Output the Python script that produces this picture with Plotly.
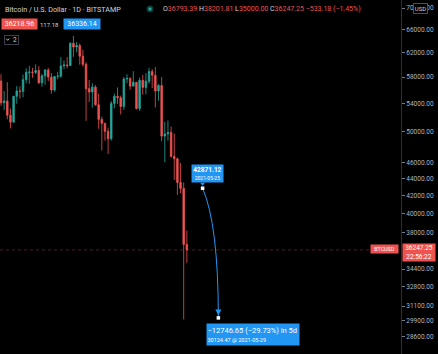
import math
import pandas as pd
import plotly.graph_objects as go

# ---------------- data ----------------
dates = pd.date_range("2021-03-22", periods=60, freq="D")
opens = [57400, 54100, 54350, 52300, 51300, 55050, 55850, 55800, 57600, 58750,
         58800, 58750, 59050, 57100, 58200, 59150, 58000, 56000, 58100, 58150,
         59800, 59950, 59850, 63600, 62950, 63200, 61400, 60050, 56200, 55700,
         56450, 53800, 51700, 51150, 50050, 49050, 54000, 55050, 54850, 53550,
         57700, 57800, 56600, 57200, 53250, 57500, 56400, 57350, 58900, 58300,
         55850, 56700, 49400, 49700, 49900, 46750, 46450, 43550, 42850, 36793.39]
highs = [58450, 55850, 57200, 53250, 55100, 56600, 56550, 58400, 59400, 59800,
         59500, 60050, 59750, 58500, 59250, 59450, 58650, 58150, 58850, 61250,
         60700, 61250, 63750, 64900, 63800, 63550, 62500, 60400, 57550, 57050,
         56750, 55450, 52100, 51200, 50550, 54350, 55450, 56400, 55150, 58000,
         58450, 57950, 58950, 57200, 57950, 58350, 58650, 59500, 59300, 59600,
         56900, 58000, 51350, 51550, 50700, 49750, 46600, 45900, 43550, 38201.81]
lows = [53650, 53000, 51700, 50450, 51250, 53950, 54700, 54900, 57050, 56950,
        57900, 58500, 56950, 56500, 56800, 57400, 55450, 55750, 57650, 57900,
        59300, 59400, 59850, 61300, 62050, 60000, 59700, 51500, 54200, 53400,
        53650, 50400, 47500, 48800, 47050, 48800, 53300, 53900, 52400, 53050,
        57050, 56050, 56500, 53100, 52900, 55300, 55350, 56950, 56300, 53400,
        54400, 48700, 46000, 48800, 46600, 43850, 42100, 42300, 30000, 35000]
closes = [54100, 54350, 52300, 51300, 55050, 55850, 55800, 57600, 58750, 58800,
          58750, 59050, 57100, 58200, 59150, 58000, 56000, 58100, 58150, 59800,
          59950, 59850, 63600, 62950, 63200, 61400, 60050, 56200, 55700, 56450,
          53800, 51700, 51150, 50050, 49050, 54000, 55050, 54850, 53550, 57700,
          57800, 56600, 57200, 53250, 57500, 56400, 57350, 58900, 58300, 55850,
          56700, 49400, 49700, 49900, 46750, 46450, 43550, 42850, 36793.39, 36247.25]

last_price = 36247.25
proj_dates = ["2021-05-25", "2021-05-30"]
proj_prices = [42871.12, 30124.47]
proj_start_label = ["42871.12", "2021-05-25"]
proj_end_label = ["\u221212746.65 (\u221229.73%) in 5d", "30124.47 @ 2021-05-29"]

tick_vals = [70000, 66000, 62000, 58000, 54000, 50000, 46000, 44000, 42000,
             40000, 38000, 34400, 32800, 31100, 29900, 28600]
tick_text = [f"{v:.2f}" for v in tick_vals]

title_text = "Bitcoin / U.S. Dollar \u00b7 1D \u00b7 BITSTAMP"
ohlc_labels = ["O", "H", "L", "C"]
ohlc_values = ["36793.39", "38201.81", "35000.00", "36247.25"]
change_text = "\u2212533.18 (\u22121.45%)"
bid_price = "36218.96"
spread = "117.18"
ask_price = "36336.14"
countdown = "22:56:22"
symbol = "BTCUSD"
collapsed_count = "2"

# ---------------- style ----------------
UP = "#26a69a"
DOWN = "#ef5350"
BLUE = "#2196f3"
TXT = "#d1d4dc"
AX = "#b2b5be"
BG = "#000000"
FONT = "Roboto"

W, H = 438, 354
PLOT_W = 401


def px(x):
    return x / PLOT_W


def py(y):
    return 1 - y / H


day_px = 3.15
x_start = dates[0] - pd.Timedelta(days=1 / day_px)
x_end = dates[0] + pd.Timedelta(days=(PLOT_W - 1) / day_px)
ppd = 846.3  # pixels per decade
r_top = math.log10(70000) + 8 / ppd
r_bot = math.log10(70000) - (H - 8) / ppd

fig = go.Figure()
fig.add_trace(go.Candlestick(
    x=dates, open=opens, high=highs, low=lows, close=closes,
    increasing=dict(line=dict(color=UP, width=0.8), fillcolor=UP),
    decreasing=dict(line=dict(color=DOWN, width=0.8), fillcolor=DOWN),
    showlegend=False, hoverinfo="skip",
))

# projection points
fig.add_trace(go.Scatter(
    x=proj_dates, y=proj_prices, mode="markers",
    marker=dict(symbol="square", size=3.5, color="white", line=dict(width=0)),
    showlegend=False, hoverinfo="skip",
))

l0, l1 = math.log10(proj_prices[0]), math.log10(proj_prices[1])
ctrl = 10 ** (l0 + 0.28 * (l1 - l0))
shapes = [
    dict(type="line", xref="paper", yref="y", x0=0, x1=1, y0=last_price, y1=last_price,
         line=dict(color="rgba(239,83,80,0.32)", width=1, dash="dot"), layer="below"),
    dict(type="path", xref="x", yref="y",
         path=f"M {proj_dates[0]},{proj_prices[0]} Q {proj_dates[1]},{ctrl} {proj_dates[1]},{proj_prices[1]}",
         line=dict(color=BLUE, width=1), layer="below"),
    # pointer under start label
    dict(type="path", xref="x", yref="y", xsizemode="pixel", ysizemode="pixel",
         xanchor=proj_dates[0], yanchor=proj_prices[0],
         path="M -2.5,5.5 L 2.5,5.5 L 0,2.5 Z", fillcolor=BLUE, line=dict(width=0)),
    # legend dot
    dict(type="circle", xref="paper", yref="paper", x0=px(146.5), x1=px(153.5), y0=py(12.5), y1=py(5.5),
         fillcolor="#0f3b36", line=dict(width=0)),
    dict(type="circle", xref="paper", yref="paper", x0=px(148.3), x1=px(151.7), y0=py(10.7), y1=py(7.3),
         fillcolor=UP, line=dict(width=0)),
    # chevron in collapse button
    dict(type="path", xref="paper", yref="paper",
         path=f"M {px(6.2)},{py(38.6)} L {px(7.7)},{py(40.3)} L {px(9.2)},{py(38.6)}",
         line=dict(color=TXT, width=0.9)),
]

ann = []
ann.append(dict(xref="paper", yref="paper", x=px(3), y=py(9), xanchor="left", yanchor="middle",
                text=title_text, showarrow=False, font=dict(family=FONT, size=7.2, color=TXT)))
parts = []
for lab, val in zip(ohlc_labels, ohlc_values):
    parts.append(f'<span style="color:{TXT}">{lab}</span><span style="color:{DOWN}">{val}</span>')
ohlc_html = " ".join(parts) + f' <span style="color:{DOWN}">{change_text}</span>'
ann.append(dict(xref="paper", yref="paper", x=px(161), y=py(9), xanchor="left", yanchor="middle",
                text=ohlc_html, showarrow=False, font=dict(family=FONT, size=7, color=DOWN)))
ann.append(dict(xref="paper", yref="paper", x=px(19.5), y=py(24), xanchor="center", yanchor="middle",
                text=bid_price, showarrow=False, bgcolor=DOWN, width=35, height=10, borderpad=0,
                font=dict(family=FONT, size=7, color="white")))
ann.append(dict(xref="paper", yref="paper", x=px(49.5), y=py(24), xanchor="center", yanchor="middle",
                text=spread, showarrow=False, font=dict(family=FONT, size=6, color=TXT)))
ann.append(dict(xref="paper", yref="paper", x=px(82), y=py(24), xanchor="center", yanchor="middle",
                text=ask_price, showarrow=False, bgcolor=BLUE, width=36, height=10, borderpad=0,
                font=dict(family=FONT, size=7, color="white")))
ann.append(dict(xref="paper", yref="paper", x=px(11), y=py(39.5), xanchor="center", yanchor="middle",
                text="\u2003\u2009" + collapsed_count, showarrow=False, bordercolor="#3a3e4a", borderwidth=1,
                width=13, height=8, borderpad=0, align="left",
                font=dict(family=FONT, size=6.5, color=TXT)))
ann.append(dict(xref="paper", yref="paper", x=px(420.5), y=py(8.5), xanchor="center", yanchor="middle",
                text="USD", showarrow=False, bordercolor="#4a4e5a", borderwidth=1, bgcolor=BG,
                width=13, height=9, borderpad=0, font=dict(family=FONT, size=6, color=TXT)))
ann.append(dict(xref="paper", yref="y", x=px(399), y=math.log10(last_price), xanchor="right",
                yanchor="middle", yshift=1, text=symbol, showarrow=False, bgcolor=DOWN,
                width=27, height=8, borderpad=0, font=dict(family=FONT, size=5.3, color="white")))
ann.append(dict(xref="paper", yref="y", x=px(402), y=math.log10(last_price), xanchor="left",
                yanchor="middle", yshift=-2.5, text=f"{last_price:.2f}<br>{countdown}", showarrow=False,
                bgcolor=DOWN, width=32, height=17, borderpad=0,
                font=dict(family=FONT, size=6.5, color="white")))
# start label
ann.append(dict(x=proj_dates[0], y=l0, xanchor="center", yanchor="bottom", xshift=5, yshift=5,
                text=f"<b>{proj_start_label[0]}</b><br><span style='font-size:5px'>{proj_start_label[1]}</span>",
                showarrow=False, bgcolor=BLUE, width=30, height=16, borderpad=0.5,
                font=dict(family=FONT, size=6.5, color="white")))
# end label
ann.append(dict(x=proj_dates[1], y=l1, xanchor="left", yanchor="top", xshift=-12, yshift=-5,
                text=f"{proj_end_label[0]}<br><span style='font-size:5.5px'>{proj_end_label[1]}</span>",
                showarrow=False, bgcolor=BLUE, width=91, height=20, borderpad=0.5, align="left",
                font=dict(family=FONT, size=7.5, color="white")))
# arrowhead
ann.append(dict(x=proj_dates[1], y=l1, ax=0, ay=-9, text="", showarrow=True, arrowhead=2,
                arrowsize=1.2, arrowwidth=1, arrowcolor=BLUE, standoff=2.5))

fig.update_layout(
    width=W, height=H, margin=dict(l=0, r=W - PLOT_W, t=0, b=0),
    paper_bgcolor=BG, plot_bgcolor=BG, showlegend=False,
    shapes=shapes, annotations=ann,
    xaxis=dict(type="date", range=[x_start, x_end], visible=False, showgrid=False,
               rangeslider=dict(visible=False), fixedrange=True),
    yaxis=dict(type="log", side="right", range=[r_bot, r_top], tickvals=tick_vals, ticktext=tick_text,
               tickfont=dict(family=FONT, size=6.5, color=AX), ticks="outside", ticklen=3,
               tickcolor="#787b86", showgrid=False, zeroline=False, showline=True,
               linecolor="#2a2e39", linewidth=1, fixedrange=True),
    font=dict(family=FONT),
)

fig.write_html("out.html")
